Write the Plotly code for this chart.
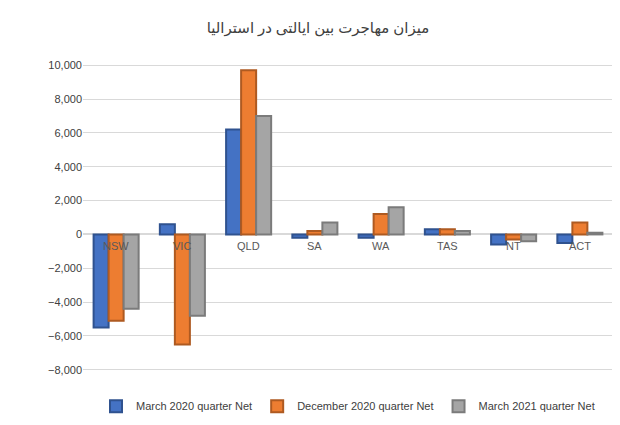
import plotly.graph_objects as go

states = ["NSW", "VIC", "QLD", "SA", "WA", "TAS", "NT", "ACT"]
mar_2020 = [-5500, 600, 6200, -200, -200, 300, -600, -500]
dec_2020 = [-5100, -6500, 9700, 200, 1200, 300, -300, 700]
mar_2021 = [-4400, -4800, 7000, 700, 1600, 200, -400, 100]

series = [
    ("March 2020 quarter Net", mar_2020, "#4472C4", "#2F528F"),
    ("December 2020 quarter Net", dec_2020, "#ED7D31", "#AE5A21"),
    ("March 2021 quarter Net", mar_2021, "#A5A5A5", "#7B7B7B"),
]

fig = go.Figure()
for name, vals, color, edge in series:
    fig.add_trace(go.Bar(
        x=states, y=vals, name=name,
        marker=dict(color=color, line=dict(color=edge, width=2)),
    ))

for s in states:
    fig.add_annotation(x=s, y=0, text=s, showarrow=False, yshift=-12,
                       font=dict(size=11, color="#595959"))

fig.update_layout(
    width=620, height=425,
    paper_bgcolor="white", plot_bgcolor="white",
    font=dict(family="Liberation Sans, Arial", size=11, color="#595959"),
    title=dict(text="میزان مهاجرت بین ایالتی در استرالیا", x=0.5, y=0.965,
               xanchor="center", font=dict(family="Noto Sans, DejaVu Sans", size=15, color="#404040")),
    barmode="group", bargap=0.32, bargroupgap=0,
    margin=dict(l=75, r=15, t=42, b=38),
    legend=dict(orientation="h", x=0.5, xanchor="center", y=-0.02, yanchor="top",
                font=dict(size=11, color="#404040")),
    xaxis=dict(showticklabels=False, showgrid=False, zeroline=False),
    yaxis=dict(range=[-8900, 10900], dtick=2000, tickformat=",", showgrid=True,
               gridcolor="#D9D9D9", zeroline=True, zerolinecolor="#D9D9D9",
               tickfont=dict(size=11, color="#404040")),
)

fig.write_html("out.html")
